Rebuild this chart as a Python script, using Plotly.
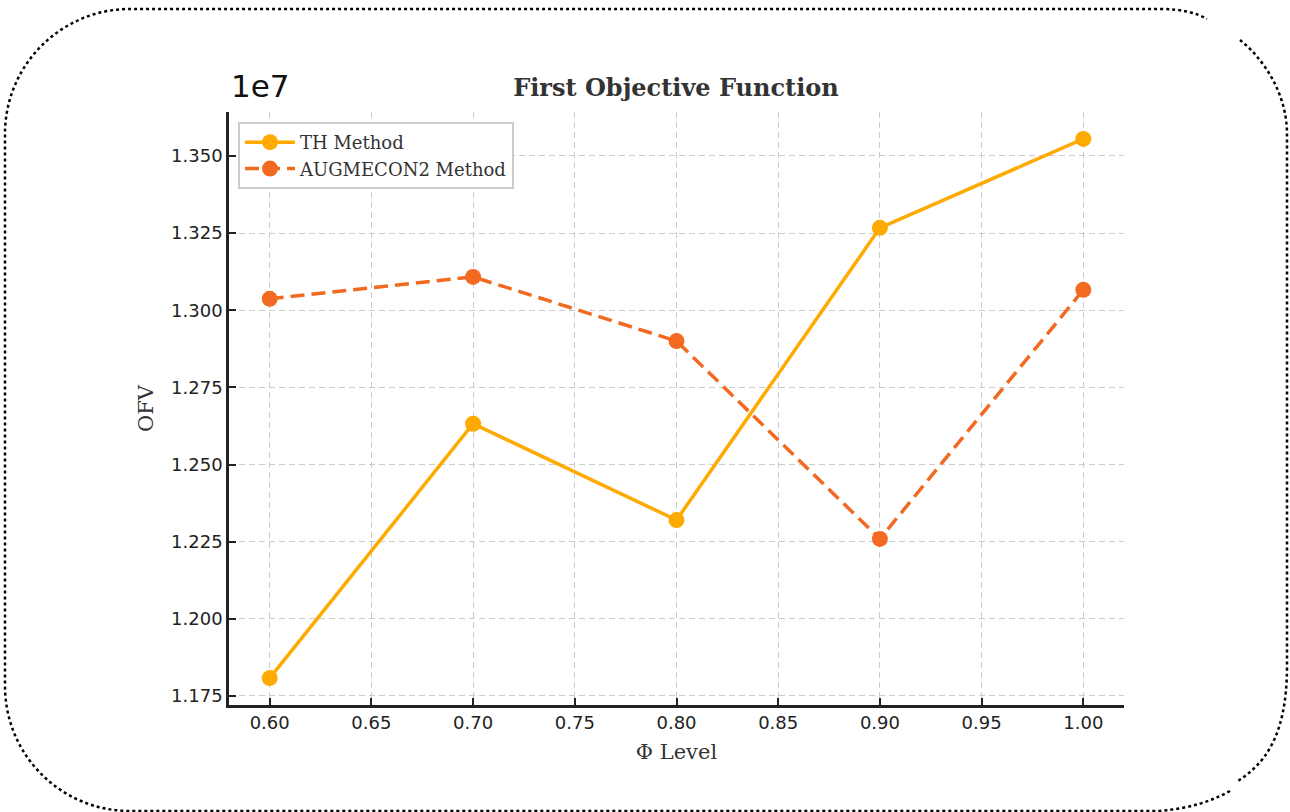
import plotly.graph_objects as go

phi_levels = [0.60, 0.70, 0.80, 0.90, 1.00]
th_method = [11808000, 12632000, 12320000, 13267000, 13555000]
augmecon2_method = [13037000, 13108000, 12900000, 12259000, 13066000]

x_ticks = [0.60, 0.65, 0.70, 0.75, 0.80, 0.85, 0.90, 0.95, 1.00]
y_tick_labels = [1.175, 1.200, 1.225, 1.250, 1.275, 1.300, 1.325, 1.350]
y_scale = 1e7

TH_COLOR = "#FFAA00"
AUG_COLOR = "#F26A21"

W, H = 1290, 812
L, R, T, B = 229, 1124, 112, 705

fig = go.Figure()
fig.add_trace(go.Scatter(
    x=phi_levels, y=th_method, mode="lines+markers", name="TH Method",
    line=dict(color=TH_COLOR, width=3.5), marker=dict(size=16, color=TH_COLOR)))
fig.add_trace(go.Scatter(
    x=phi_levels, y=augmecon2_method, mode="lines+markers", name="AUGMECON2 Method",
    line=dict(color=AUG_COLOR, width=3.5, dash="14px,7px"), marker=dict(size=16, color=AUG_COLOR)))

ymin = min(th_method + augmecon2_method)
ymax = max(th_method + augmecon2_method)
pad = (ymax - ymin) * 0.05

axis_common = dict(
    showgrid=True, gridcolor="#cccccc", griddash="6px,4px", gridwidth=1,
    showline=True, linecolor="#222222", linewidth=2.5, mirror=False,
    ticks="inside", ticklen=7, tickwidth=1.5, tickcolor="#222222",
    tickfont=dict(family="DejaVu Sans", size=18, color="#222222"),
    zeroline=False)

fig.update_xaxes(
    range=[0.58, 1.02], tickvals=x_ticks, ticktext=[f"{v:.2f}" for v in x_ticks],
    title=dict(text="Φ Level", font=dict(family="DejaVu Serif", size=21, color="#333333"), standoff=12),
    **axis_common)
fig.update_yaxes(
    range=[ymin - pad, ymax + pad], tickvals=[v * y_scale for v in y_tick_labels],
    ticktext=[f"{v:.3f}" for v in y_tick_labels],
    title=dict(text="OFV", font=dict(family="DejaVu Serif", size=21, color="#333333"), standoff=12),
    **axis_common)

def px(x):
    return (x - L) / (R - L)

def py(y):
    return (B - y) / (B - T)

def pt(x, y):
    return f"{px(x):.5f},{py(y):.5f}"

# rounded dotted border with small gaps at right corners
x0, x1, y0, y1, r = 5, 1287, 9, 811, 125
k = 0.5523 * r
path1 = (
    f"M {pt(1240, 40)} "
    f"C {pt(1265, 60)} {pt(x1, 95)} {pt(x1, y0 + r)} "
    f"L {pt(x1, y1 - r - 20)} "
    f"C {pt(x1, 740)} {pt(1262, 765)} {pt(1238, 781)}"
)
path2 = (
    f"M {pt(1230, 791)} "
    f"C {pt(1210, 802)} {pt(1190, 808)} {pt(1160, y1)} "
    f"L {pt(x0 + r, y1)} "
    f"C {pt(x0 + r - k, y1)} {pt(x0, y1 - r + k)} {pt(x0, y1 - r)} "
    f"L {pt(x0, y0 + r)} "
    f"C {pt(x0, y0 + r - k)} {pt(x0 + r - k, y0)} {pt(x0 + r, y0)} "
    f"L {pt(1160, y0)} "
    f"C {pt(1180, y0)} {pt(1195, 12)} {pt(1207, 19)}"
)
for p in (path1, path2):
    fig.add_shape(type="path", path=p, xref="paper", yref="paper",
                  line=dict(color="black", width=2.5, dash="dot"))

fig.add_annotation(text="1e7", xref="paper", yref="paper", x=px(229), y=py(106),
                   xanchor="left", yanchor="bottom", showarrow=False,
                   font=dict(family="DejaVu Sans", size=31, color="#111111"))

fig.update_layout(
    width=W, height=H,
    margin=dict(l=L, r=W - R, t=T, b=H - B, autoexpand=False),
    paper_bgcolor="white", plot_bgcolor="white",
    title=dict(text="<b>First Objective Function</b>", xref="container", x=676 / W,
               xanchor="center", yref="container", y=1 - 88 / H, yanchor="middle",
               font=dict(family="DejaVu Serif", size=24, color="#333333")),
    legend=dict(x=px(238), y=py(122), xanchor="left", yanchor="top",
                bgcolor="white", bordercolor="#cccccc", borderwidth=2,
                font=dict(family="DejaVu Serif", size=18, color="#333333"),
                itemwidth=50, tracegroupgap=0),
    showlegend=True,
)

fig.write_html("out.html", config={"displayModeBar": False},
               post_script="document.body.style.margin='0';")
